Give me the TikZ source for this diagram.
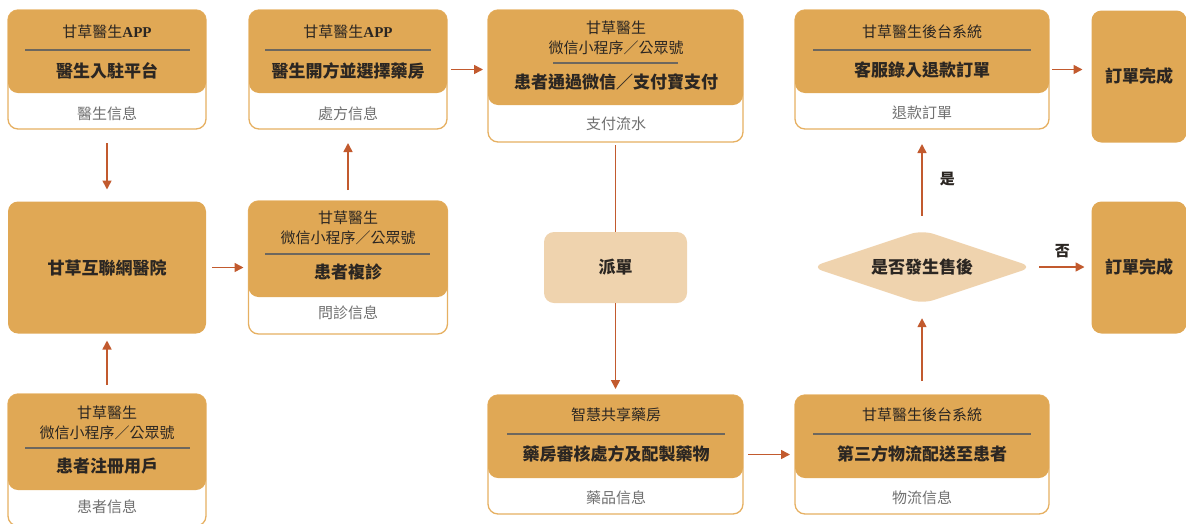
\documentclass[tikz,border=0pt]{standalone}
\usepackage{fontspec}
\setmainfont{Noto Sans CJK TC}
\newfontfamily\appfont{Liberation Serif}
\usetikzlibrary{arrows.meta,shapes.geometric}
\definecolor{gold}{HTML}{E0A855}
\definecolor{sand}{HTML}{EFD3AE}
\definecolor{boxedge}{HTML}{E6B062}
\definecolor{rust}{HTML}{C25A2E}
\definecolor{ink}{HTML}{2B2622}
\definecolor{note}{HTML}{707070}
\definecolor{rulegray}{HTML}{6D675E}
\begin{document}
\begin{tikzpicture}[x=1pt,y=-1pt,>={Triangle[length=9pt,width=9pt]},
	frame/.style={draw=boxedge,line width=1.3pt,fill=white,rounded corners=10pt,inner sep=0pt,outer sep=0pt},
	capfill/.style={fill=gold,rounded corners=10pt,inner sep=0pt,outer sep=0pt},
	soft/.style={fill=sand,rounded corners=10pt,inner sep=0pt},
	head/.style={text=ink,font=\fontsize{15}{20}\selectfont,align=center,inner sep=0pt},
	main/.style={text=ink,font=\bfseries\fontsize{17}{20}\selectfont,inner sep=0pt},
	info/.style={text=note,font=\fontsize{15}{18}\selectfont,inner sep=0pt},
	rule/.style={draw=rulegray,line width=1.6pt},
	flow/.style={->,draw=rust,line width=1.6pt}]
		\useasboundingbox (0,0) rectangle (1186,523);
		\node[frame,minimum width=198pt,minimum height=119pt] (docbox) at (107,69.5) {};
		\node[capfill,minimum width=198pt,minimum height=83pt,anchor=north] (doccap) at (docbox.north) {};
		\node[head] (dochead) at (107,32) {甘草醫生{\appfont\bfseries APP}};
		\draw[rule] (25,50) -- (190,50);
		\node[main] (docmain) at (107,71) {醫生入駐平台};
		\node[info] (docinfo) at (107,114) {醫生信息};
		\node[frame,minimum width=198pt,minimum height=119pt] (rxbox) at (348,69.5) {};
		\node[capfill,minimum width=198pt,minimum height=83pt,anchor=north] (rxcap) at (rxbox.north) {};
		\node[head] (rxhead) at (348,32) {甘草醫生{\appfont\bfseries APP}};
		\draw[rule] (265,50) -- (431,50);
		\node[main] (rxmain) at (348,71) {醫生開方並選擇藥房};
		\node[info] (rxinfo) at (348,114) {處方信息};
		\node[frame,minimum width=255pt,minimum height=132pt] (paybox) at (615.5,76) {};
		\node[capfill,minimum width=255pt,minimum height=95pt,anchor=north] (paycap) at (paybox.north) {};
		\node[head] (payhead) at (616,38) {甘草醫生\\微信小程序／公眾號};
		\draw[rule] (553,63) -- (678,63);
		\node[main] (paymain) at (616,82) {患者通過微信／支付寶支付};
		\node[info] (payinfo) at (616,124) {支付流水};
		\node[frame,minimum width=254pt,minimum height=119pt] (refundbox) at (922,69.5) {};
		\node[capfill,minimum width=254pt,minimum height=83pt,anchor=north] (refundcap) at (refundbox.north) {};
		\node[head] (refundhead) at (922,32) {甘草醫生後台系統};
		\draw[rule] (813,50) -- (1031,50);
		\node[main] (refundmain) at (922,70) {客服錄入退款訂單};
		\node[info] (refundinfo) at (922,113) {退款訂單};
		\node[capfill,main,minimum width=95pt,minimum height=132pt] (doneup) at (1139,76.5) {訂單完成};
		\node[capfill,main,minimum width=198pt,minimum height=132pt] (hospital) at (107,267.5) {甘草互聯網醫院};
		\node[frame,minimum width=199pt,minimum height=133pt] (visitbox) at (348,267.5) {};
		\node[capfill,minimum width=199pt,minimum height=96pt,anchor=north] (visitcap) at (visitbox.north) {};
		\node[head] (visithead) at (348,228) {甘草醫生\\微信小程序／公眾號};
		\draw[rule] (265,254) -- (430,254);
		\node[main] (visitmain) at (348,272) {患者複診};
		\node[info] (visitinfo) at (348,313) {問診信息};
		\node[soft,main,minimum width=143pt,minimum height=71pt] (dispatch) at (615.5,267.5) {派單};
		\node[diamond,aspect=3,fill=sand,rounded corners=12pt,minimum width=222pt,minimum height=74pt,main] (aftersale) at (922,267) {是否發生售後};
		\node[capfill,main,minimum width=95pt,minimum height=132pt] (donelow) at (1139,267.5) {訂單完成};
		\node[frame,minimum width=198pt,minimum height=132pt] (regbox) at (107,460) {};
		\node[capfill,minimum width=198pt,minimum height=96pt,anchor=north] (regcap) at (regbox.north) {};
		\node[head] (reghead) at (107,422.5) {甘草醫生\\微信小程序／公眾號};
		\draw[rule] (25,448) -- (190,448);
		\node[main] (regmain) at (107,466) {患者注冊用戶};
		\node[info] (reginfo) at (107,507) {患者信息};
		\node[frame,minimum width=255pt,minimum height=119pt] (pharmbox) at (615.5,454.5) {};
		\node[capfill,minimum width=255pt,minimum height=83pt,anchor=north] (pharmcap) at (pharmbox.north) {};
		\node[head] (pharmhead) at (616,415) {智慧共享藥房};
		\draw[rule] (507,434) -- (725,434);
		\node[main] (pharmmain) at (616,454) {藥房審核處方及配製藥物};
		\node[info] (pharminfo) at (616,498) {藥品信息};
		\node[frame,minimum width=254pt,minimum height=119pt] (shipbox) at (922,454.5) {};
		\node[capfill,minimum width=254pt,minimum height=83pt,anchor=north] (shipcap) at (shipbox.north) {};
		\node[head] (shiphead) at (922,415) {甘草醫生後台系統};
		\draw[rule] (813,434) -- (1031,434);
		\node[main] (shipmain) at (922,454) {第三方物流配送至患者};
		\node[info] (shipinfo) at (922,498) {物流信息};
		\draw[flow,shorten <=14pt,shorten >=12pt] (docbox) -- (hospital);
		\draw[flow,shorten <=9pt,shorten >=7pt] (regbox) -- (hospital);
		\draw[flow,shorten <=6pt,shorten >=5pt] (hospital) -- (visitbox);
		\draw[flow,shorten <=11pt,shorten >=14pt] (visitbox) -- (rxbox);
		\draw[flow,shorten <=4pt,shorten >=5pt] (rxbox.east) -- (rxbox.east -| paybox.west);
		\draw[rust,line width=1.6pt,shorten <=3pt] (paybox) -- (dispatch);
		\draw[flow,shorten >=6pt] (dispatch) -- (pharmbox);
		\draw[flow,shorten <=5pt,shorten >=5pt] (pharmbox) -- (shipbox);
		\draw[flow,shorten <=14pt,shorten >=14pt] (shipbox) -- (aftersale);
		\draw[flow,shorten <=14pt,shorten >=15pt] (aftersale) -- (refundbox) node[midway,right=17pt,main,font=\bfseries\fontsize{15}{18}\selectfont]{是};
		\draw[flow,shorten <=6pt,shorten >=7pt] (aftersale.east) -- (aftersale.east -| donelow.west) node[midway,above=8pt,main,font=\bfseries\fontsize{15}{18}\selectfont]{否};
		\draw[flow,shorten <=3pt,shorten >=9pt] (refundbox.east) -- (refundbox.east -| doneup.west);
\end{tikzpicture}
\end{document}
